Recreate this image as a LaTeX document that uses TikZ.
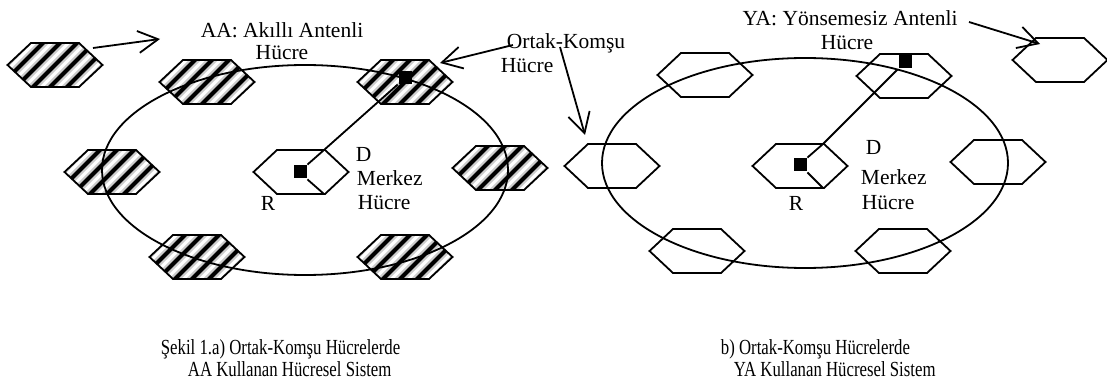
\documentclass[tikz,border=0pt]{standalone}
\usepackage{fontspec}
\usepackage{graphicx}
\setmainfont{Liberation Serif}
\usetikzlibrary{arrows.meta}
\newcommand\capline[1]{\scalebox{0.78}[1]{#1}}
\begin{document}
\begin{tikzpicture}[x=1pt,y=-1pt,line width=1.8pt,
  lbl/.style={inner sep=0pt,font=\fontsize{21.5}{25}\selectfont},
  captext/.style={inner sep=0pt,font=\fontsize{21.5}{23}\selectfont,anchor=base west},
  arr/.style={-{Straight Barb[length=20pt,width=22pt]},line width=1.8pt},
  sq/.style={fill=black,draw=none,minimum size=13pt,inner sep=0pt},
  hexcell/.pic={\draw[line width=1.8pt] (-47.5,0)--(-24,-22)--(24,-22)--(47.5,0)--(24,22)--(-24,22)--cycle;},
  hatchcell/.pic={
    \begin{scope}
      \clip (-47.5,0)--(-24,-22)--(24,-22)--(47.5,0)--(24,22)--(-24,22)--cycle;
      \foreach \k in {-6,...,6} {\draw[gray!40,line width=8.5pt] (\k*17-25,25)--(\k*17+25,-25);}
      \foreach \k in {-6,...,6} {\draw[black,line width=4.2pt] (\k*17-25,25)--(\k*17+25,-25);}
    \end{scope}
    \draw[line width=1.8pt] (-47.5,0)--(-24,-22)--(24,-22)--(47.5,0)--(24,22)--(-24,22)--cycle;}
]
\useasboundingbox (0,0) rectangle (1107,387);

% ---- left panel cells
\coordinate (LO) at (55,65);
\coordinate (LTL) at (207,82);
\coordinate (LTR) at (405,82);
\coordinate (LML) at (112,172);
\coordinate (LMR) at (500,168);
\coordinate (LC) at (301,172);
\coordinate (LBL) at (197,257);
\coordinate (LBR) at (405,257);
\foreach \c in {LO,LTL,LTR,LML,LMR,LBL,LBR} {\pic at (\c) {hatchcell};}
\pic at (LC) {hexcell};

% ---- right panel cells
\coordinate (RO) at (1060,60);
\coordinate (RTL) at (705,75);
\coordinate (RTR) at (904,76);
\coordinate (RML) at (612,166);
\coordinate (RMR) at (998,162);
\coordinate (RC) at (800,166);
\coordinate (RBL) at (697,251);
\coordinate (RBR) at (903,251);
\foreach \c in {RO,RTL,RTR,RML,RMR,RC,RBL,RBR} {\pic at (\c) {hexcell};}

% ---- ellipses
\draw (305,170) ellipse [x radius=203pt,y radius=105pt];
\draw (805,163) ellipse [x radius=203pt,y radius=105pt];

% ---- left panel sector and link
\node[sq] (sqL) at (300,172) {};
\node[sq] (sqLt) at (405,78) {};
\coordinate (LCne) at (324,150);
\coordinate (LCse) at (324,194);
\draw (sqL.north east) -- (LCne);
\draw (sqL.south east) -- (LCse);
\draw (LCne) -- (sqLt);

% ---- right panel sector and link
\node[sq] (sqR) at (800,165) {};
\node[sq] (sqRt) at (905,62) {};
\coordinate (RCne) at (823,144);
\coordinate (RCse) at (823,188);
\draw (sqR.north east) -- (RCne);
\draw (sqR.south east) -- (RCse);
\draw (RCne) -- (sqRt);

% ---- labels
\node[lbl] (aa1) at (282,30) {AA: Akıllı Antenli};
\node[lbl] (aa2) at (282,53) {Hücre};
\node[lbl,anchor=west] (ok1) at (506,43) {Ortak-Komşu};
\node[lbl,anchor=west] (ok2) at (500,66) {Hücre};
\node[lbl] (ya1) at (850,18) {YA: Yönsemesiz Antenli};
\node[lbl] (ya2) at (847,43) {Hücre};

\node[lbl,anchor=base west] (dL) at (355,162) {D};
\node[lbl,anchor=base west] (mL) at (356,186) {Merkez};
\node[lbl,anchor=base west] (hL) at (357,210) {Hücre};
\node[lbl,anchor=base] (rL) at (268,211) {R};

\node[lbl,anchor=base west] (dR) at (865,155) {D};
\node[lbl,anchor=base west] (mR) at (860,185) {Merkez};
\node[lbl,anchor=base west] (hR) at (861,210) {Hücre};
\node[lbl,anchor=base] (rR) at (796,211) {R};

% ---- arrows
\coordinate (aaS) at (93,48);  \coordinate (aaT) at (160,39);
\draw[arr] (aaS) -- (aaT);
\coordinate (okS1) at (513,45); \coordinate (okT1) at (440,63);
\draw[arr] (okS1) -- (okT1);
\coordinate (okS2) at (560,47); \coordinate (okT2) at (585,135);
\draw[arr] (okS2) -- (okT2);
\coordinate (yaS) at (969,22); \coordinate (yaT) at (1040,44);
\draw[arr] (yaS) -- (yaT);

% ---- captions
\node[captext] (c1) at (160,354) {\capline{Şekil 1.a) Ortak-Komşu Hücrelerde}};
\node[captext] (c2) at (187,376) {\capline{AA Kullanan Hücresel Sistem}};
\node[captext] (c3) at (720,354) {\capline{b) Ortak-Komşu Hücrelerde}};
\node[captext] (c4) at (733,376) {\capline{YA Kullanan Hücresel Sistem}};
\end{tikzpicture}
\end{document}
